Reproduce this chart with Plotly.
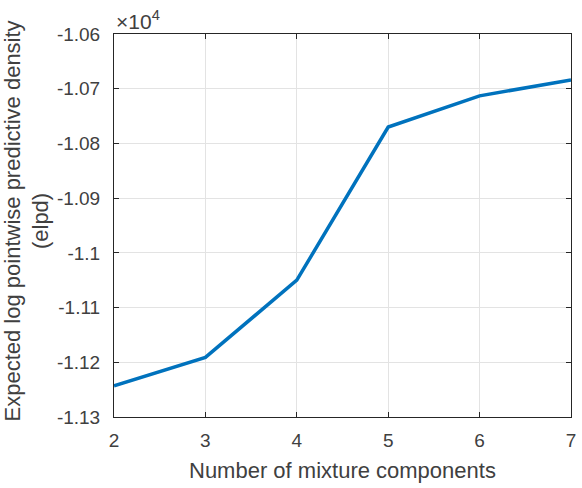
import plotly.graph_objects as go

components = [2, 3, 4, 5, 6, 7]
elpd = [-11243, -11191, -11050, -10770, -10713, -10684]

y_tick_vals = [-11300, -11200, -11100, -11000, -10900, -10800, -10700, -10600]
y_tick_text = ["-1.13", "-1.12", "-1.11", "-1.1", "-1.09", "-1.08", "-1.07", "-1.06"]
x_tick_vals = [2, 3, 4, 5, 6, 7]

font_family = "Liberation Sans, Arial, sans-serif"
axis_color = "#262626"
tick_size = 19
title_size = 22

fig = go.Figure()
fig.add_trace(go.Scatter(
    x=components, y=elpd, mode="lines",
    line=dict(color="#0072BD", width=3.5),
    showlegend=False,
))

common = dict(
    showline=True, linecolor=axis_color, linewidth=1, mirror="ticks",
    ticks="inside", ticklen=5, tickcolor=axis_color,
    showgrid=True, gridcolor="#e3e3e3", gridwidth=1,
    zeroline=False,
    tickfont=dict(family=font_family, size=tick_size, color="#404040"),
)

fig.update_xaxes(range=[2, 7], tickvals=x_tick_vals, ticklabelstandoff=6, **common)
fig.update_yaxes(range=[-11300, -10600], tickvals=y_tick_vals, ticktext=y_tick_text,
                 ticklabelstandoff=9, **common)

fig.add_annotation(
    text="Number of mixture components", xref="paper", yref="paper",
    x=0.5, y=0, xanchor="center", yanchor="middle", yshift=-53, showarrow=False,
    font=dict(family=font_family, size=title_size, color="#404040"),
)
fig.add_annotation(
    text="Expected log pointwise predictive density<br>(elpd)", xref="paper", yref="paper",
    x=0, y=0.5, xanchor="center", yanchor="middle", xshift=-88, yshift=4,
    textangle=-90, showarrow=False,
    font=dict(family=font_family, size=title_size, color="#404040"),
)
fig.add_annotation(
    text="×10<sup>4</sup>", xref="paper", yref="paper", x=0, y=1,
    xanchor="left", yanchor="bottom", showarrow=False, yshift=-1,
    font=dict(family=font_family, size=21, color="#404040"),
)

fig.update_layout(
    width=582, height=488,
    margin=dict(l=114, r=6, t=34, b=71),
    plot_bgcolor="white", paper_bgcolor="white",
)

fig.write_html("out.html")
